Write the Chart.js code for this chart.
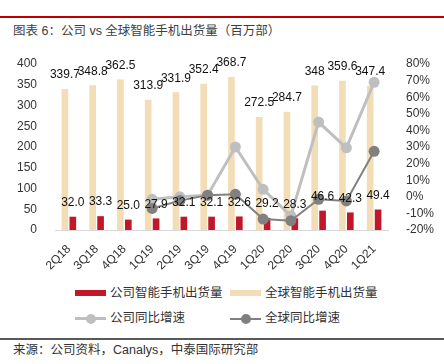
<!DOCTYPE html>
<html><head><meta charset="utf-8">
<script src="https://cdn.jsdelivr.net/npm/chart.js@4/dist/chart.umd.min.js"></script>
<style>
html,body{margin:0;padding:0;background:#fff;}
body{width:444px;height:364px;position:relative;overflow:hidden;font-family:"Liberation Sans","Noto Sans CJK SC",sans-serif;color:#333;}
#topline{position:absolute;left:0;top:16px;width:444px;height:1.5px;background:#C00000;}
#title{position:absolute;left:13px;top:22px;font-size:12.5px;color:#404040;line-height:18px;white-space:nowrap;}
#wrap{position:absolute;left:0;top:40px;width:444px;height:240px;}
.lg{position:absolute;font-size:12.5px;line-height:16px;white-space:nowrap;color:#333;}
.sw{position:absolute;width:31px;height:6px;}
.ln{position:absolute;width:31px;}
.dot{position:absolute;border-radius:50%;}
#divider{position:absolute;left:0;top:338px;width:444px;height:1.5px;background:#595959;}
#source{position:absolute;left:13px;top:342px;font-size:12.5px;line-height:16px;white-space:nowrap;color:#333;}
</style></head>
<body>
<div id="topline"></div>
<div id="title">图表 6：公司 vs 全球智能手机出货量（百万部）</div>
<div id="wrap"><canvas id="c"></canvas></div>

<div class="sw" style="left:75px;top:290px;background:#C0172B;"></div>
<div class="lg" style="left:110px;top:285px;">公司智能手机出货量</div>
<div class="sw" style="left:230px;top:290px;background:#F2DDB7;"></div>
<div class="lg" style="left:265px;top:285px;">全球智能手机出货量</div>

<div class="ln" style="left:75px;top:317px;height:3px;background:#BFBFBF;"></div>
<div class="dot" style="left:86px;top:313.5px;width:10px;height:10px;background:#BFBFBF;"></div>
<div class="lg" style="left:110px;top:310px;">公司同比增速</div>
<div class="ln" style="left:230px;top:317.5px;height:2px;background:#808080;"></div>
<div class="dot" style="left:241px;top:313.5px;width:10px;height:10px;background:#808080;"></div>
<div class="lg" style="left:265px;top:310px;">全球同比增速</div>

<div id="divider"></div>
<div id="source">来源：公司资料，Canalys，中泰国际研究部</div>

<script>
const categories = ['2Q18','3Q18','4Q18','1Q19','2Q19','3Q19','4Q19','1Q20','2Q20','3Q20','4Q20','1Q21'];
const companyShipments = [32.0,33.3,25.0,27.9,32.1,32.1,32.6,29.2,28.3,46.6,42.3,49.4];
const globalShipments = [339.7,348.8,362.5,313.9,331.9,352.4,368.7,272.5,284.7,348,359.6,347.4];
const companyLabelText = ['32.0','33.3','25.0','27.9','32.1','32.1','32.6','29.2','28.3','46.6','42.3','49.4'];
const globalLabelText = ['339.7','348.8','362.5','313.9','331.9','352.4','368.7','272.5','284.7','348','359.6','347.4'];
const companyGrowth = [null,null,null,-1.5,0,1,30,4.5,-11.5,45,29.5,69];
const globalGrowth = [null,null,null,-7,-2.3,1,1.5,-13.4,-14.4,-1.5,-2.5,27.4];
const leftTicks = [0,400,50];
const rightTicks = [-20,80,10];

const labelPlugin = {
  id:'barLabels',
  afterDatasetsDraw(chart){
    const ctx = chart.ctx;
    ctx.save();
    ctx.font = '12px "Liberation Sans", sans-serif';
    ctx.fillStyle = '#111';
    ctx.textAlign = 'center';
    ctx.textBaseline = 'middle';
    [[0,companyLabelText],[1,globalLabelText]].forEach(([di,texts])=>{
      const meta = chart.getDatasetMeta(di);
      meta.data.forEach((el,i)=>{
        ctx.fillText(texts[i], el.x, el.y - 14);
      });
    });
    ctx.restore();
  }
};

new Chart(document.getElementById('c'), {
  type:'bar',
  data:{
    labels:categories,
    datasets:[
      {type:'bar',label:'公司智能手机出货量',data:companyShipments,backgroundColor:'#C0172B',yAxisID:'y',order:3,categoryPercentage:0.57,barPercentage:0.84},
      {type:'bar',label:'全球智能手机出货量',data:globalShipments,backgroundColor:'#F2DDB7',yAxisID:'y',order:2,categoryPercentage:0.57,barPercentage:0.84},
      {type:'line',label:'公司同比增速',data:companyGrowth,borderColor:'#BFBFBF',backgroundColor:'#BFBFBF',borderWidth:3,pointRadius:5.5,pointHoverRadius:5.5,pointBorderWidth:0,yAxisID:'y1',order:1,spanGaps:false,tension:0},
      {type:'line',label:'全球同比增速',data:globalGrowth,borderColor:'#808080',backgroundColor:'#808080',borderWidth:2,pointRadius:5.5,pointHoverRadius:5.5,pointBorderWidth:0,yAxisID:'y1',order:0,spanGaps:false,tension:0}
    ]
  },
  options:{
    responsive:true,
    maintainAspectRatio:false,
    animation:false,
    layout:{padding:{top:24,left:0,right:0,bottom:0}},
    plugins:{legend:{display:false},tooltip:{enabled:false}},
    scales:{
      x:{
        grid:{display:false},
        border:{display:true,color:'#D9D9D9',width:1},
        ticks:{minRotation:45,maxRotation:45,autoSkip:false,color:'#333',padding:4,font:{family:'"Liberation Sans", sans-serif',size:12}},
        afterFit(s){s.height=50;}
      },
      y:{
        position:'left',min:leftTicks[0],max:leftTicks[1],
        grid:{display:false},border:{display:false},
        ticks:{stepSize:leftTicks[2],autoSkip:false,color:'#333',padding:10,font:{family:'"Liberation Sans", sans-serif',size:12}},
        afterFit(s){s.width=55;}
      },
      y1:{
        position:'right',min:rightTicks[0],max:rightTicks[1],
        grid:{display:false},border:{display:false},
        ticks:{stepSize:rightTicks[2],autoSkip:false,color:'#333',padding:10,callback:v=>v+'%',font:{family:'"Liberation Sans", sans-serif',size:12}},
        afterFit(s){s.width=56;}
      }
    }
  },
  plugins:[labelPlugin]
});
</script>
</body></html>
